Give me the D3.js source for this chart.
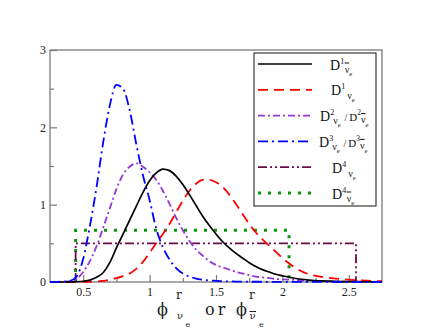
<!DOCTYPE html>
<html>
<head>
<meta charset="utf-8">
<script src="https://cdn.jsdelivr.net/npm/d3@7"></script>
<style>
  body { margin: 0; background: #fff; }
  svg { display: block; }
</style>
</head>
<body>
<div id="chart"></div>
<script>
// sample points
const phi = [0.25, 0.3, 0.35, 0.4, 0.45, 0.5, 0.55, 0.6, 0.65, 0.7, 0.75, 0.8, 0.85, 0.9, 0.95,
  1.0, 1.05, 1.1, 1.15, 1.2, 1.25, 1.3, 1.35, 1.4, 1.45, 1.5, 1.55, 1.6, 1.65, 1.7, 1.75,
  1.8, 1.85, 1.9, 1.95, 2.0, 2.1, 2.2, 2.3, 2.4, 2.5, 2.6, 2.75];

const dAntiNu1 = [0, 0, 0, 0.001, 0.003, 0.01, 0.025, 0.06, 0.12, 0.25, 0.44, 0.62, 0.80, 0.98, 1.16,
  1.31, 1.41, 1.46, 1.44, 1.37, 1.26, 1.13, 0.99, 0.85, 0.73, 0.62, 0.52, 0.44, 0.37, 0.31, 0.25,
  0.2, 0.16, 0.13, 0.1, 0.08, 0.045, 0.025, 0.014, 0.008, 0.005, 0.003, 0.001];

const dNu1 = [0, 0, 0, 0, 0, 0.001, 0.003, 0.006, 0.015, 0.03, 0.05, 0.075, 0.11, 0.17, 0.26,
  0.38, 0.5, 0.62, 0.75, 0.9, 1.05, 1.18, 1.27, 1.32, 1.32, 1.29, 1.23, 1.13, 1.01, 0.88, 0.75,
  0.64, 0.55, 0.47, 0.39, 0.31, 0.18, 0.1, 0.065, 0.044, 0.03, 0.02, 0.01];

const d2 = [0, 0.001, 0.003, 0.01, 0.04, 0.13, 0.27, 0.46, 0.70, 0.95, 1.2, 1.39, 1.49, 1.535, 1.49,
  1.42, 1.32, 1.18, 1.01, 0.83, 0.67, 0.53, 0.42, 0.34, 0.27, 0.22, 0.19, 0.16, 0.13, 0.11, 0.09,
  0.07, 0.06, 0.05, 0.04, 0.035, 0.025, 0.015, 0.01, 0.007, 0.005, 0.003, 0.002];

const d3nu = [0, 0.002, 0.005, 0.015, 0.07, 0.3, 0.72, 1.22, 1.8, 2.28, 2.55, 2.5, 2.22, 1.78, 1.38,
  1.06, 0.69, 0.45, 0.29, 0.18, 0.11, 0.07, 0.045, 0.03, 0.02, 0.015, 0.01, 0.008, 0.006, 0.005, 0.004,
  0.003, 0.003, 0.002, 0.002, 0.002, 0.001, 0.001, 0.001, 0, 0, 0, 0];

// flat D4 distributions: [start, end] and level
const d4NuEdges = [0.443, 2.554];
const d4NuLevel = 0.5;
const d4AntiEdges = [0.443, 2.05];
const d4AntiLevel = 0.668;

const xTicks = [0.5, 1, 1.5, 2, 2.5];
const xMinor = [0.75, 1.25, 1.75, 2.25];
const yTicks = [0, 1, 2, 3];
const yMinor = [0.5, 1.5, 2.5];

const width = 430, height = 332;
const margin = { top: 50, right: 48, bottom: 50, left: 50 };

const svg = d3.select("#chart").append("svg")
  .attr("width", width)
  .attr("height", height);

const x = d3.scaleLinear().domain([0.25, 2.75]).range([margin.left, width - margin.right]);
const y = d3.scaleLinear().domain([0, 3]).range([height - margin.bottom, margin.top]);

const frameCol = "#7a7a7a";
const serif = "Liberation Serif, Times New Roman, serif";
const slab = "DejaVu Serif, serif";

// ticks (inward)
function tickAxis(axis, tv, size, labels) {
  return axis.tickValues(tv).tickSize(size).tickSizeOuter(0)
    .tickFormat(labels ? d3.format("") : "");
}

const gx = svg.append("g").attr("transform", `translate(0,${y(0)})`)
  .call(tickAxis(d3.axisBottom(x), xTicks, -7, true));
svg.append("g").attr("transform", `translate(0,${y(0)})`)
  .call(tickAxis(d3.axisBottom(x), xMinor, -4, false));
const gy = svg.append("g").attr("transform", `translate(${x(0.25)},0)`)
  .call(tickAxis(d3.axisLeft(y), yTicks, -7, true));
svg.append("g").attr("transform", `translate(${x(0.25)},0)`)
  .call(tickAxis(d3.axisLeft(y), yMinor, -4, false));

[gx, gy].forEach(g => g.attr("font-family", serif).attr("font-size", 12));
svg.selectAll(".domain").remove();
svg.selectAll(".tick line").attr("stroke", frameCol).attr("stroke-width", 1.2);
svg.selectAll(".tick text").attr("fill", "#222");
gx.selectAll(".tick text").attr("y", 5).attr("dy", "0.71em");
gy.selectAll(".tick text").attr("x", -4);

// frame
svg.append("rect")
  .attr("x", x(0.25)).attr("y", y(3))
  .attr("width", x(2.75) - x(0.25)).attr("height", y(0) - y(3))
  .attr("fill", "none").attr("stroke", frameCol).attr("stroke-width", 1.3);

svg.append("clipPath").attr("id", "clip").append("rect")
  .attr("x", x(0.25)).attr("y", y(3) - 5)
  .attr("width", x(2.75) - x(0.25)).attr("height", y(0) - y(3) + 6);

const plot = svg.append("g").attr("clip-path", "url(#clip)");

const line = d3.line()
  .x(d => x(d[0]))
  .y(d => y(d[1]))
  .curve(d3.curveMonotoneX);
const straight = d3.line().x(d => x(d[0])).y(d => y(d[1]));

const styles = {
  anti1: { color: "#000000", dash: null, w: 1.7 },
  nu1: { color: "#ff0000", dash: "10,6", w: 1.8 },
  d2: { color: "#9437d6", dash: "7,3,2,3", w: 1.8 },
  d3: { color: "#0000ff", dash: "10,4,2,4", w: 1.8 },
  nu4: { color: "#6b0a4a", dash: "9,3,2,3,2,3", w: 1.8 },
  anti4: { color: "#0a960a", dash: "3,7", w: 3 }
};

function box(edges, level) {
  return [[edges[0], 0], [edges[0], level], [edges[1], level], [edges[1], 0]];
}

const series = [
  { key: "anti4", pts: box(d4AntiEdges, d4AntiLevel), gen: straight },
  { key: "nu4", pts: box(d4NuEdges, d4NuLevel), gen: straight },
  { key: "d2", pts: phi.map((p, i) => [p, d2[i]]), gen: line },
  { key: "nu1", pts: phi.map((p, i) => [p, dNu1[i]]), gen: line },
  { key: "anti1", pts: phi.map((p, i) => [p, dAntiNu1[i]]), gen: line },
  { key: "d3", pts: phi.map((p, i) => [p, d3nu[i]]), gen: line }
];

series.forEach(s => {
  const st = styles[s.key];
  plot.append("path")
    .attr("d", s.gen(s.pts))
    .attr("fill", "none")
    .attr("stroke", st.color)
    .attr("stroke-width", st.w)
    .attr("stroke-dasharray", st.dash);
});

// legend
const legend = svg.append("g").attr("font-family", serif);
legend.append("rect")
  .attr("x", 254).attr("y", 53).attr("width", 122).attr("height", 153)
  .attr("fill", "#fff").attr("stroke", "#111").attr("stroke-width", 1);

// label pieces: [text, size, baseline offset, dx]; "bar" marks an overline on the nu
const legendItems = [
  { key: "anti1", x: 330, parts: [["D", 14, 0], ["1", 8, -6], ["\u03BD", 10, 3, 0.5, "bar"], ["e", 6.5, 6.5]] },
  { key: "nu1", x: 331, parts: [["D", 14, 0], ["1", 8, -6], ["\u03BD", 10, 4, 2], ["e", 6.5, 7]] },
  { key: "d2", x: 320, parts: [["D", 14, 0], ["2", 8, -6], ["\u03BD", 10, 3, -1], ["e", 6.5, 6], ["/", 10, 0, 4], ["D", 11, 0, 2], ["2", 7.5, -6], ["\u03BD", 10, 2, 0, "bar"], ["e", 6.5, 6]] },
  { key: "d3", x: 319, parts: [["D", 14, 0], ["3", 8, -6], ["\u03BD", 10, 3, -1], ["e", 6.5, 6], ["/", 10, 0, 4], ["D", 11, 0, 2], ["3", 7.5, -6], ["\u03BD", 10, 2, 0, "bar"], ["e", 6.5, 6]] },
  { key: "nu4", x: 332, parts: [["D", 14, 0], ["4", 8, -6], ["\u03BD", 10, 4, 2], ["e", 6.5, 7]] },
  { key: "anti4", x: 332, parts: [["D", 14, 0], ["4", 8, -6], ["\u03BD", 10, 3, 0.5, "bar"], ["e", 6.5, 6.5]] }
];

legendItems.forEach((it, i) => {
  const ly = 64 + i * 25.8;
  const st = styles[it.key];
  legend.append("line")
    .attr("x1", 258).attr("x2", 312).attr("y1", ly).attr("y2", ly)
    .attr("stroke", st.color).attr("stroke-width", st.w)
    .attr("stroke-dasharray", st.dash);
  const base = ly + 5.5;
  const t = legend.append("text")
    .attr("x", it.x).attr("y", base)
    .attr("fill", "#111");
  let prev = 0;
  it.parts.forEach(p => {
    const sp = t.append("tspan").text(p[0])
      .attr("font-size", p[1])
      .attr("dy", p[2] - prev)
      .attr("dx", p[3] || 0);
    if (p[4] === "bar") sp.attr("text-decoration", "overline");
    prev = p[2];
  });
});

// x axis title: phi^r_{nu_e} or phi^r_{anti-nu_e}
const title = svg.append("g").attr("font-family", slab).attr("fill", "#222");
function tt(str, tx, ty, size) {
  return title.append("text").attr("x", tx).attr("y", ty).attr("font-size", size).text(str);
}
tt("\u03D5", 157, 315, 16);
tt("r", 176, 298.5, 12);
tt("\u03BD", 177, 318.5, 10);
tt("e", 185.5, 327, 8);
tt("or", 205, 315, 16).attr("letter-spacing", 3);
tt("\u03D5", 236, 315, 16);
tt("r", 249, 298.5, 12);
tt("\u03BD", 249.5, 318.5, 10);
tt("e", 259, 327, 8);
title.append("line").attr("x1", 249.5).attr("x2", 256).attr("y1", 311.5).attr("y2", 311.5)
  .attr("stroke", "#222").attr("stroke-width", 1);
</script>
</body>
</html>
